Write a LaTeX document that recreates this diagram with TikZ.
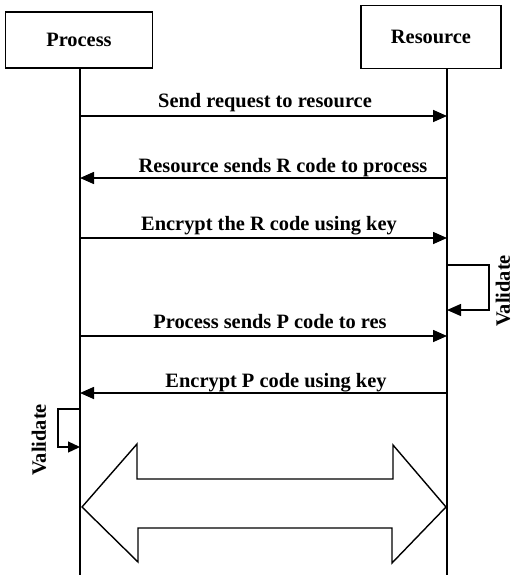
\documentclass[tikz,border=0pt]{standalone}
\usepackage{fontspec}
\setmainfont{Liberation Serif}
\usetikzlibrary{arrows.meta}
\begin{document}
\begin{tikzpicture}[x=1pt,y=-1pt,
  line width=1.6pt,
  lbl/.style={font=\bfseries\fontsize{20.4}{22}\selectfont, inner sep=0pt},
  actor/.style={draw, line width=1.4pt, font=\bfseries\fontsize{20.4}{22}\selectfont},
  msg/.style={-{Triangle[length=14pt,width=12pt]}},
]
\useasboundingbox (0,0) rectangle (513,575);
\node[actor, minimum width=147pt, minimum height=56pt] (proc) at (79,40) {Process};
\node[actor, minimum width=140pt, minimum height=63pt] (res) at (431,37) {Resource};
\coordinate (pend) at (80,575);
\coordinate (rend) at (447,575);
\draw (proc.south -| pend) -- (pend);
\draw (res.south -| rend) -- (rend);
% messages
\foreach \n/\y in {1/116,2/178,3/238,4/336,5/393}{
  \coordinate (p\n) at (80,\y);
  \coordinate (r\n) at (447,\y);
}
\draw[msg] (p1) -- (r1);
\node[lbl, anchor=base] (l1) at (265,107) {Send request to resource};
\draw[msg] (r2) -- (p2);
\node[lbl, anchor=base] (l2) at (283,172) {Resource sends R code to process};
\draw[msg] (p3) -- (r3);
\node[lbl, anchor=base] (l3) at (269,230) {Encrypt the R code using key};
\draw[msg] (p4) -- (r4);
\node[lbl, anchor=base] (l4) at (270,328) {Process sends P code to res};
\draw[msg] (r5) -- (p5);
\node[lbl, anchor=base] (l5) at (276,387) {Encrypt P code using key};
% self loops
\coordinate (ra) at (447,265);
\coordinate (rb) at (447,310);
\draw[msg, line width=1.3pt] (ra) -- (489,265) -- (489,310) -- (rb);
\node[lbl, rotate=90] (v1) at (503,291) {Validate};
\coordinate (pa) at (80,409);
\coordinate (pb) at (80,447);
\draw[msg, line width=1.3pt, -{Triangle[length=12pt,width=11pt]}] (pa) -- (58,409) -- (58,447) -- (pb);
\node[lbl, rotate=90] (v2) at (39,440) {Validate};
% double arrow
\draw[line width=1.4pt, line join=miter]
  (82,507) -- (137,444) -- (137,479) -- (393,479) -- (393,445) -- (446,507)
  -- (392,563) -- (392,528) -- (138,528) -- (138,562) -- cycle;
\end{tikzpicture}
\end{document}
